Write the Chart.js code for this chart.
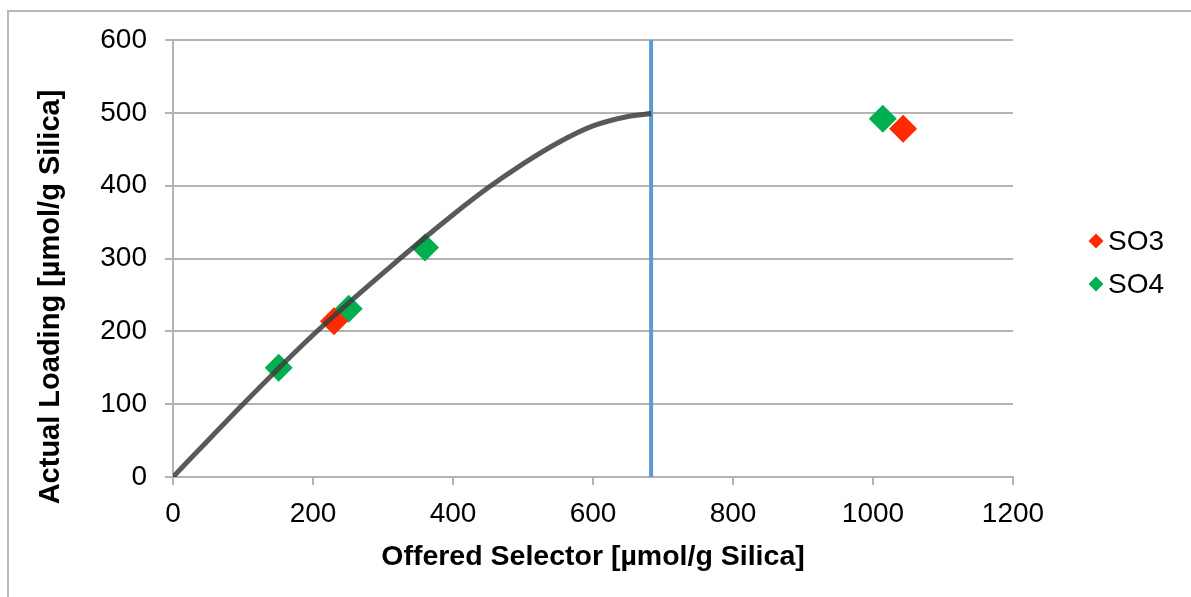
<!DOCTYPE html>
<html>
<head>
<meta charset="utf-8">
<script src="https://cdn.jsdelivr.net/npm/chart.js@4.4.1/dist/chart.umd.min.js"></script>
<style>
  html, body { margin: 0; padding: 0; background: #fff; }
  #wrap { position: relative; width: 1191px; height: 597px; }
  #frame { position: absolute; left: 7px; top: 10px; right: 0; bottom: 0; border-top: 2px solid #b8b8b8; border-left: 2px solid #b8b8b8; }
  canvas { position: absolute; left: 0; top: 0; }
</style>
</head>
<body>
<div id="wrap">
  <div id="frame"></div>
  <canvas id="chart" width="1191" height="597"></canvas>
</div>
<script>
// measured points
let so3X = [230, 1043];
let so3Y = [214, 478];
let so4X = [151, 251, 360, 1014];
let so4Y = [150, 231, 315, 492];

// fitted loading curve
let curveX = [0, 100, 200, 300, 400, 450, 500, 550, 600, 650, 683];
let curveY = [0, 100, 195, 280, 360, 397, 430, 459, 482, 495, 499];

// cutoff line
let cutoffX = [683, 683];
let cutoffY = [0, 600];

let xTicks = [0, 200, 400, 600, 800, 1000, 1200];
let yTicks = [0, 100, 200, 300, 400, 500, 600];

function toPoints(xs, ys) {
  return xs.map((x, i) => ({ x: x, y: ys[i] }));
}

const FONT = "'Liberation Sans', Arial, Helvetica, sans-serif";
Chart.defaults.font.family = FONT;
Chart.defaults.color = '#000';

//y title + legend drawn at fixed spots
const extras = {
  id: 'extras',
  afterDraw(chart) {
    const ctx = chart.ctx;
    const area = chart.chartArea;
    ctx.save();
    ctx.fillStyle = '#000';
    ctx.font = "bold 29px " + FONT;
    ctx.textAlign = 'center';
    ctx.textBaseline = 'middle';
    ctx.translate(51, area.bottom - 180);
    ctx.rotate(-Math.PI / 2);
    ctx.fillText('Actual Loading [µmol/g Silica]', 0, 0);
    ctx.restore();

    const items = [chart.data.datasets[1], chart.data.datasets[2]];
    ctx.save();
    ctx.font = "28px " + FONT;
    ctx.textAlign = 'left';
    ctx.textBaseline = 'middle';
    items.forEach((ds, i) => {
      let cx = 1096, cy = 241 + i * 43, r = 7.5;
      ctx.fillStyle = ds.backgroundColor;
      ctx.beginPath();
      ctx.moveTo(cx, cy - r);
      ctx.lineTo(cx + r, cy);
      ctx.lineTo(cx, cy + r);
      ctx.lineTo(cx - r, cy);
      ctx.closePath();
      ctx.fill();
      ctx.fillStyle = '#000';
      ctx.fillText(ds.label, 1108, cy + 1);
    });
    ctx.restore();
  }
};

const gridColor = '#b3b3b3';

new Chart(document.getElementById('chart').getContext('2d'), {
  type: 'scatter',
  data: {
    datasets: [
      {
        label: 'curve',
        data: toPoints(curveX, curveY),
        showLine: true,
        borderColor: 'rgba(60,60,60,0.85)',
        borderWidth: 5,
        pointRadius: 0,
        cubicInterpolationMode: 'monotone',
        order: 0
      },
      {
        label: 'SO3',
        data: toPoints(so3X, so3Y),
        backgroundColor: '#ff2a00',
        pointStyle: 'rectRot',
        pointRadius: 14,
        pointHoverRadius: 14,
        pointBorderWidth: 0,
        order: 1
      },
      {
        label: 'SO4',
        data: toPoints(so4X, so4Y),
        backgroundColor: '#00b050',
        pointStyle: 'rectRot',
        pointRadius: 14,
        pointHoverRadius: 14,
        pointBorderWidth: 0,
        order: 2
      },
      {
        label: 'cutoff',
        data: toPoints(cutoffX, cutoffY),
        showLine: true,
        borderColor: '#5b9bd5',
        borderWidth: 4,
        pointRadius: 0,
        order: 3
      }
    ]
  },
  options: {
    responsive: false,
    animation: false,
    layout: { padding: { top: 40, right: 178, left: 0, bottom: 0 } },
    plugins: {
      legend: { display: false },
      tooltip: { enabled: false }
    },
    scales: {
      x: {
        type: 'linear',
        min: 0,
        max: 1200,
        afterBuildTicks: (s) => { s.ticks = xTicks.map(v => ({ value: v })); },
        ticks: { font: { size: 28 }, color: '#000', padding: 12, callback: (v) => String(v) },
        grid: { drawOnChartArea: false, drawTicks: true, tickLength: 8, color: gridColor, lineWidth: 2 },
        border: { color: gridColor, width: 2 },
        title: {
          display: true,
          text: 'Offered Selector [µmol/g Silica]',
          font: { size: 28.5, weight: 'bold' },
          color: '#000',
          padding: { top: 0, bottom: 23 }
        },
        afterFit: (s) => { s.height = 120; }
      },
      y: {
        type: 'linear',
        min: 0,
        max: 600,
        afterBuildTicks: (s) => { s.ticks = yTicks.map(v => ({ value: v })); },
        ticks: { font: { size: 28 }, color: '#000', padding: 18, callback: (v) => String(v) },
        grid: { color: gridColor, lineWidth: 2, tickLength: 8 },
        border: { color: gridColor, width: 2 },
        afterFit: (s) => { s.width = 173; }
      }
    }
  },
  plugins: [extras]
});
</script>
</body>
</html>
